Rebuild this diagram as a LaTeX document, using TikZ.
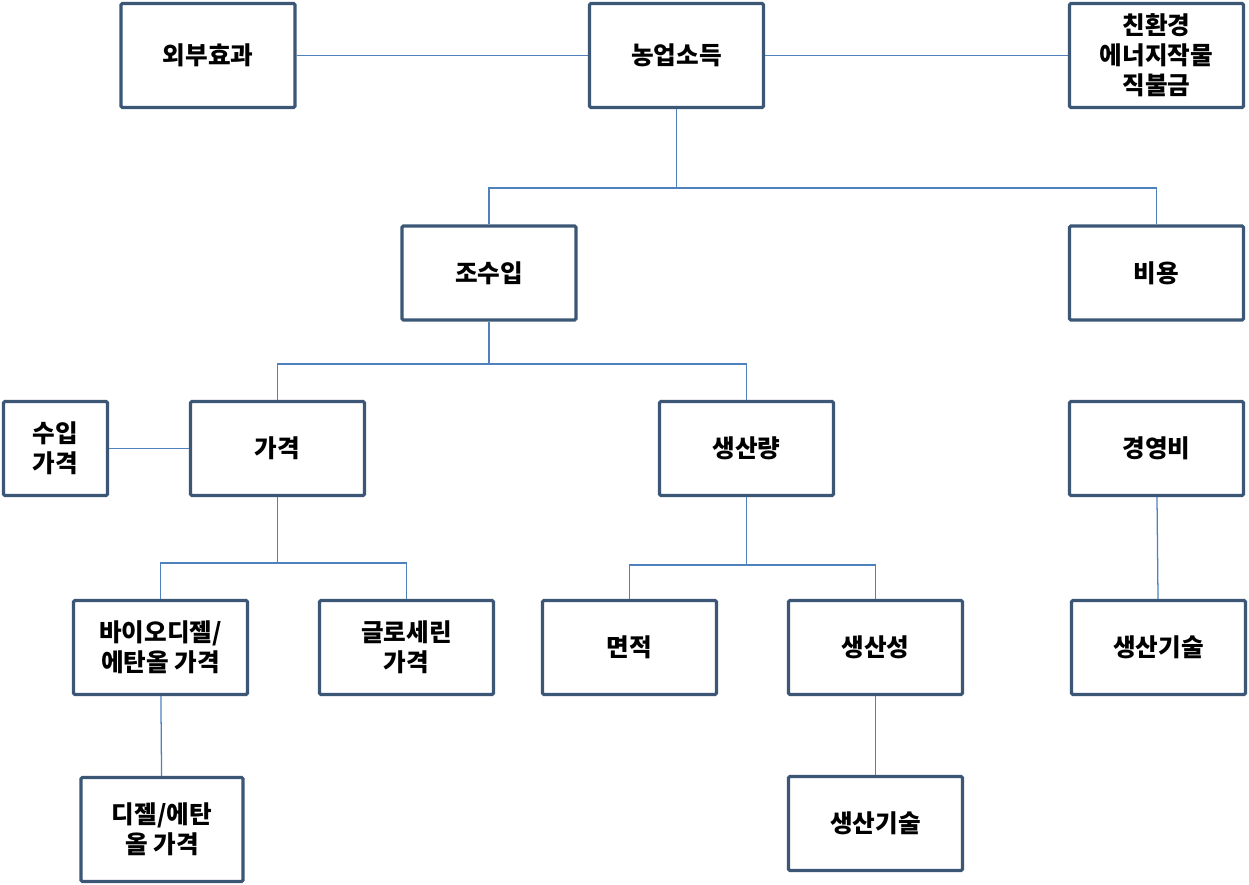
\documentclass[tikz,border=0pt]{standalone}
\usepackage{fontspec}
\setmainfont{Noto Sans CJK KR}
\definecolor{boxline}{HTML}{3B5775}
\definecolor{linkline}{HTML}{4F81BD}

\begin{document}
\begin{tikzpicture}[x=0.025cm, y=-0.025cm,
    box/.style={draw=boxline, line width=2.2pt, rounded corners=1pt, fill=white,
      minimum width=4.35cm, minimum height=2.35cm, align=center,
      font=\fontsize{17.5}{21.5}\selectfont\bfseries, inner sep=0pt},
    tall/.style={minimum height=2.6cm},
    link/.style={draw=linkline, line width=0.9pt}]
    \useasboundingbox (0,0) rectangle (1249,885);

    \node[box, tall] (ext) at (208,55.5) {외부효과};
    \node[box, tall] (income) at (676.5,55.5) {농업소득};
    \node[box, tall] (pay) at (1156.5,55.5) {친환경\\에너지작물\\직불금};

    \node[box] (gross) at (489,273) {조수입};
    \node[box] (cost) at (1156.5,273) {비용};

    \node[box, minimum width=2.6cm] (imp) at (55.5,448.5) {수입\\가격};
    \node[box] (price) at (277.5,448.5) {가격};
    \node[box] (qty) at (746.5,448.5) {생산량};
    \node[box] (mgmt) at (1156.5,448.5) {경영비};

    \node[box] (bio) at (160.5,647.5) {바이오디젤/\\에탄올 가격};
    \node[box] (gly) at (406.5,647.5) {글로세린\\가격};
    \node[box] (area) at (629.5,647.5) {면적};
    \node[box] (prod) at (875.5,647.5) {생산성};
    \node[box] (tech1) at (1158.5,647.5) {생산기술};

    \node[box, tall, minimum width=4.05cm] (diesel) at (162,829.5) {디젤/에탄\\올 가격};
    \node[box] (tech2) at (875.5,823.5) {생산기술};

    \coordinate (j1) at (income.south |- 0,188);
    \coordinate (j2) at (gross.south |- 0,364);
    \coordinate (j3) at (price.south |- 0,563);
    \coordinate (j4) at (qty.south |- 0,565);

    \draw[link] (ext) -- (income);
    \draw[link] (income) -- (pay);
    \draw[link] (imp) -- (price);

    \draw[link] (income.south) -- (j1);
    \draw[link] (gross.north) |- (j1) -| (cost.north);
    \draw[link] (gross.south) -- (j2);
    \draw[link] (price.north) |- (j2) -| (qty.north);
    \draw[link] (price.south) -- (j3);
    \draw[link] (bio.north) |- (j3) -| (gly.north);
    \draw[link] (qty.south) -- (j4);
    \draw[link] (area.north) |- (j4) -| (prod.north);

    \draw[link] (mgmt) -- (tech1);
    \draw[link] (bio) -- (diesel);
    \draw[link] (prod) -- (tech2);
\end{tikzpicture}
\end{document}
